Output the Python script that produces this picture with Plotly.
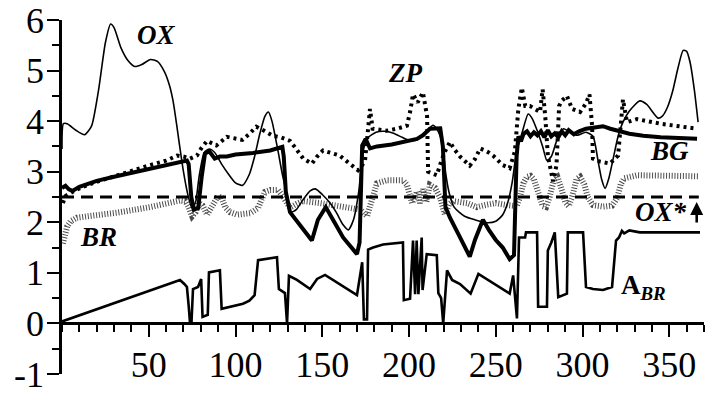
import plotly.graph_objects as go

# ---- series: day of year vs. value ----
ox_x = [0, 0.8, 3, 8, 13, 17, 21, 25, 28, 30, 34, 38, 42, 46, 51, 55, 59, 62, 64, 66, 68, 70, 72.5, 75, 77, 79, 82, 85, 88, 92, 96, 100, 104, 108, 111, 114, 117, 119, 121, 124, 127, 130, 132, 135, 139, 143, 146, 150, 154.5, 158, 162, 165, 168, 171, 173.5, 176, 181, 186, 191, 196, 200, 204, 207, 210, 213.8, 216, 219, 221, 223, 226, 232, 238, 245, 250, 254, 257, 259.5, 262, 265, 268.7, 271, 274, 277, 279.5, 282, 285, 289, 293, 297, 302, 306, 309, 311, 313, 315, 317.6, 320.5, 323.3, 327, 333, 337, 343.5, 346, 349, 352, 355, 358, 360, 362, 364.5, 366.6]
ox_y = [3.45, 3.95, 3.95, 3.82, 3.73, 3.9, 4.6, 5.55, 5.92, 5.85, 5.45, 5.2, 5.08, 5.12, 5.22, 5.18, 4.98, 4.7, 4.4, 3.95, 3.46, 3.0, 2.55, 2.27, 2.4, 2.9, 3.38, 3.45, 3.38, 3.15, 2.95, 2.78, 2.73, 2.95, 3.3, 3.75, 4.1, 4.18, 4.0, 3.5, 2.95, 2.5, 2.2, 2.25, 2.45, 2.62, 2.66, 2.55, 2.38, 2.2, 1.95, 1.85, 2.05, 2.6, 3.4, 3.66, 3.78, 3.8, 3.76, 3.68, 3.62, 3.62, 3.7, 3.8, 3.92, 3.85, 3.6, 3.0, 2.6, 2.3, 2.12, 2.05, 1.99, 2.02, 2.15, 2.4, 2.8, 3.4, 3.75, 4.14, 4.05, 3.8, 3.5, 3.22, 3.3, 3.6, 3.85, 3.78, 3.72, 3.78, 3.7, 3.2, 2.85, 2.67, 2.85, 3.25, 3.7, 3.98, 4.2, 4.4, 4.33, 4.06, 4.1, 4.28, 4.6, 5.05, 5.4, 5.38, 5.16, 4.6, 3.98]

bg_x = [0, 2, 4, 6, 10, 20, 30, 40, 50, 60, 72, 73, 74.5, 76, 78.5, 80.5, 82.4, 85, 88, 91, 95, 100, 110, 120, 127, 127.8, 129, 131.4, 137, 144, 147.5, 152, 157, 162, 170, 171.5, 173, 175, 177.5, 181.5, 190, 198.8, 204.6, 208, 210, 212, 218, 219.5, 221, 223.6, 229.4, 235, 238, 242.6, 246, 250, 254, 258, 260.5, 262, 263, 264.5, 266, 268, 270, 272, 274, 276, 278, 280, 282, 284, 286, 288, 290, 292, 295, 298, 302, 307, 311.8, 316, 320, 327, 335, 345, 366]
bg_y = [2.68, 2.72, 2.65, 2.62, 2.7, 2.82, 2.9, 2.98, 3.05, 3.13, 3.22, 3.15, 2.5, 2.25, 2.28, 2.9, 3.36, 3.4, 3.26, 3.3, 3.3, 3.34, 3.37, 3.42, 3.49, 3.3, 2.6, 2.2, 1.95, 1.64, 2.05, 2.3, 2.0, 1.7, 1.37, 1.6, 3.52, 3.65, 3.46, 3.5, 3.54, 3.6, 3.65, 3.72, 3.79, 3.85, 3.86, 3.5, 2.3, 2.09, 1.7, 1.32, 1.65, 2.05, 1.85, 1.65, 1.5, 1.27, 1.35, 3.3, 3.7, 3.6, 3.75, 3.8, 3.7, 3.78, 3.72, 3.8, 3.68, 3.82, 3.7, 3.76, 3.68, 3.8, 3.72, 3.82, 3.74, 3.8, 3.85, 3.88, 3.9, 3.85, 3.81, 3.75, 3.71, 3.68, 3.65]

zp_x = [0.5, 2, 6, 12, 20, 31.7, 40, 50.7, 60, 66.3, 70, 73.8, 77.8, 80, 83.6, 89, 95, 100.9, 104, 108, 112, 116, 121.6, 126, 131.4, 135, 139, 144, 147, 150.4, 155, 160, 165, 170.6, 174.6, 176.5, 177.5, 179, 183, 187, 193, 198.8, 200.6, 202.3, 205, 208, 210.4, 211, 213, 216, 218.5, 220.7, 223.6, 226, 229.4, 235, 238, 241, 245, 248.4, 254, 258, 261, 263, 265, 267, 269.7, 273, 275.5, 277, 278.5, 280, 283, 285, 286.5, 288, 291, 294, 298.6, 302, 304, 305.5, 306, 310, 315.8, 320.5, 323.3, 325.6, 331.4, 344.7, 366]
zp_y = [2.38, 2.52, 2.6, 2.7, 2.8, 2.93, 3.02, 3.13, 3.22, 3.32, 3.3, 3.26, 3.32, 3.45, 3.61, 3.52, 3.69, 3.65, 3.63, 3.75, 3.89, 3.82, 3.71, 3.68, 3.61, 3.45, 3.26, 3.16, 3.3, 3.42, 3.38, 3.32, 3.18, 3.03, 3.2, 3.9, 4.24, 3.85, 3.83, 3.81, 3.85, 3.91, 4.18, 4.53, 4.37, 4.57, 4.1, 3.0, 2.97, 2.93, 3.2, 3.4, 3.59, 3.45, 3.3, 3.12, 3.25, 3.46, 3.4, 3.32, 3.13, 3.07, 3.4, 4.24, 4.66, 4.3, 4.3, 4.22, 4.18, 4.63, 4.1, 3.32, 2.81, 3.13, 4.3, 4.4, 4.5, 4.24, 4.18, 4.35, 4.53, 3.91, 3.26, 3.2, 3.16, 3.32, 4.43, 3.98, 4.04, 3.95, 3.85]

br_x = [0.5, 1.5, 3, 5, 8.6, 15, 31.7, 50.7, 60, 68, 71, 73, 75, 77, 79, 81, 83.6, 86, 88, 90, 92, 94, 96.8, 100.9, 108.4, 113, 115, 117, 120, 124.5, 126.5, 128.5, 131.4, 135, 139, 148.7, 160, 167.7, 172, 175.8, 178.7, 181.5, 187, 196.5, 198.8, 201.7, 204.6, 206.3, 208, 210, 212, 215, 218, 220.7, 223, 225.4, 233.4, 239, 245, 250, 256.5, 262, 264, 266, 268, 270, 272, 274.5, 277, 279, 281, 283.5, 285.5, 287.5, 290, 292, 294, 296.5, 298.6, 301, 303, 306, 312, 317, 320, 322, 324, 331.4, 367]
br_y = [1.58, 1.75, 1.92, 2.02, 2.09, 2.12, 2.19, 2.3, 2.37, 2.43, 2.42, 2.3, 2.12, 2.2, 2.38, 2.33, 2.15, 2.3, 2.45, 2.52, 2.48, 2.3, 2.2, 2.15, 2.18, 2.28, 2.45, 2.6, 2.64, 2.64, 2.55, 2.42, 2.29, 2.36, 2.42, 2.38, 2.32, 2.29, 2.25, 2.12, 2.48, 2.77, 2.83, 2.83, 2.74, 2.38, 2.61, 2.38, 2.65, 2.4, 2.74, 2.68, 2.48, 2.15, 2.35, 2.42, 2.38, 2.3, 2.35, 2.38, 2.34, 2.32, 2.5, 2.78, 2.9, 2.92, 2.85, 2.55, 2.32, 2.3, 2.5, 2.85, 2.9, 2.7, 2.4, 2.32, 2.5, 2.85, 2.9, 2.75, 2.5, 2.34, 2.31, 2.33, 2.48, 2.75, 2.87, 2.93, 2.91]

abr_x = [0, 68, 70.5, 72, 73, 73.8, 74.6, 75.5, 78.4, 80.2, 81, 84, 84.7, 91, 92, 96.8, 104.3, 108, 111, 113, 118, 123.9, 125, 128.5, 129.7, 130.8, 135.4, 143, 147, 151.6, 170, 173, 174, 175.8, 176.4, 179.3, 185, 196.5, 197, 200.6, 202.3, 203.5, 204.4, 205.4, 207.3, 207.8, 210.2, 216, 216.9, 218.5, 219.7, 221.9, 224.8, 229.4, 235.5, 240, 258, 260, 262.2, 263.4, 266.9, 267.4, 273.8, 274.4, 279.5, 280, 282, 284, 286, 291, 291.5, 300.3, 302, 306, 311.8, 317, 319.3, 321, 322.7, 324, 327, 333, 367.7]
abr_y = [0.04, 0.86, 0.78, 0.72, 0.35, 0.0, 0.0, 0.68, 0.72, 0.88, 0.13, 0.17, 1.01, 1.05, 0.29, 0.33, 0.39, 0.45, 0.56, 1.25, 1.28, 1.31, 0.68, 0.6, 0.0, 0.94, 0.86, 0.68, 0.88, 0.96, 0.56, 1.21, 0.08, 0.08, 1.46, 1.5, 1.56, 1.6, 0.46, 0.49, 1.64, 0.58, 1.64, 0.58, 1.7, 0.66, 1.37, 1.35, 0.6, 0.5, 0.0, 1.05, 0.86, 0.78, 0.59, 0.98, 0.59, 0.95, 0.1, 1.7, 1.7, 1.8, 1.8, 0.33, 0.33, 1.44, 1.6, 1.8, 0.52, 0.59, 1.8, 1.8, 0.72, 0.68, 0.66, 0.72, 1.64, 1.7, 1.83, 1.78, 1.84, 1.8, 1.8]

ox_star_x = [0, 367]
ox_star_y = [2.5, 2.5]

x_ticks = [50, 100, 150, 200, 250, 300, 350]
y_ticks = [-1, 0, 1, 2, 3, 4, 5, 6]
y_tick_text = ["-1", "0", "1", "2", "3", "4", "5", "6"]

SERIF = "Liberation Serif, Times New Roman, Times, serif"

fig = go.Figure()

# hatched-looking band for BR
fig.add_trace(go.Scatter(x=br_x, y=br_y, mode="lines",
                         line=dict(color="#4a4a4a", width=6, dash="1px,1.8px"),
                         hoverinfo="skip"))
# OX* threshold
fig.add_trace(go.Scatter(x=ox_star_x, y=ox_star_y, mode="lines",
                         line=dict(color="#000000", width=3, dash="12px,7px")))
# OX
fig.add_trace(go.Scatter(x=ox_x, y=ox_y, mode="lines",
                         line=dict(color="#000000", width=1.6, shape="spline", smoothing=0.6)))
# ZP
fig.add_trace(go.Scatter(x=zp_x, y=zp_y, mode="lines",
                         line=dict(color="#000000", width=4, dash="3px,4px")))
# BG
fig.add_trace(go.Scatter(x=bg_x, y=bg_y, mode="lines",
                         line=dict(color="#000000", width=4)))
# A_BR
fig.add_trace(go.Scatter(x=abr_x, y=abr_y, mode="lines",
                         line=dict(color="#000000", width=2.6)))

lab_font = dict(family=SERIF, size=27, color="#000000")
annotations = [
    dict(x=54.2, y=5.71, text="<b><i>OX</i></b>"),
    dict(x=197.7, y=4.96, text="<b><i>ZP</i></b>"),
    dict(x=350.4, y=3.4, text="<b><i>BG</i></b>"),
    dict(x=345.2, y=2.2, text="<b><i>OX*</i></b>"),
    dict(x=21, y=1.7, text="<b><i>BR</i></b>"),
]
for a in annotations:
    a.update(xref="x", yref="y", showarrow=False, font=lab_font,
             xanchor="center", yanchor="middle")
annotations.append(dict(x=321, y=0.72, xref="x", yref="y", showarrow=False,
                        text="<b>A</b><sub><b><i>BR</i></b></sub>", font=lab_font,
                        xanchor="left", yanchor="middle"))
annotations.append(dict(x=365.8, y=2.4, xref="x", yref="y", showarrow=True,
                        ax=0, ay=22, arrowhead=2, arrowsize=1, arrowwidth=2.6,
                        arrowcolor="#000000", text=""))

fig.update_layout(
    width=705, height=396,
    margin=dict(l=62, r=1, t=20, b=18),
    paper_bgcolor="white", plot_bgcolor="white",
    showlegend=False,
    font=dict(family=SERIF, size=36, color="#000000"),
    annotations=annotations,
    xaxis=dict(range=[0, 370], anchor="free", position=1/7,
               showline=True, linecolor="#000000", linewidth=2.5,
               tickmode="array", tickvals=x_ticks, ticks="outside",
               ticklen=12, tickwidth=2, tickcolor="#000000",
               ticklabelstandoff=-3, ticklabeloverflow="allow",
               minor=dict(tickmode="linear", tick0=0, dtick=10, ticks="outside",
                          ticklen=7, tickwidth=2, tickcolor="#000000"),
               showgrid=False, zeroline=False,
               tickfont=dict(family=SERIF, size=36, color="#000000")),
    yaxis=dict(range=[-1, 6], showline=True, linecolor="#000000", linewidth=2.5,
               tickmode="array", tickvals=y_ticks, ticktext=y_tick_text,
               ticks="outside", ticklen=12, tickwidth=2, tickcolor="#000000",
               ticklabelstandoff=-4, ticklabeloverflow="allow",
               minor=dict(tickmode="linear", tick0=0, dtick=0.5, ticks="outside",
                          ticklen=7, tickwidth=2, tickcolor="#000000"),
               showgrid=False, zeroline=False,
               tickfont=dict(family=SERIF, size=36, color="#000000")),
)

fig.write_html("out.html")
